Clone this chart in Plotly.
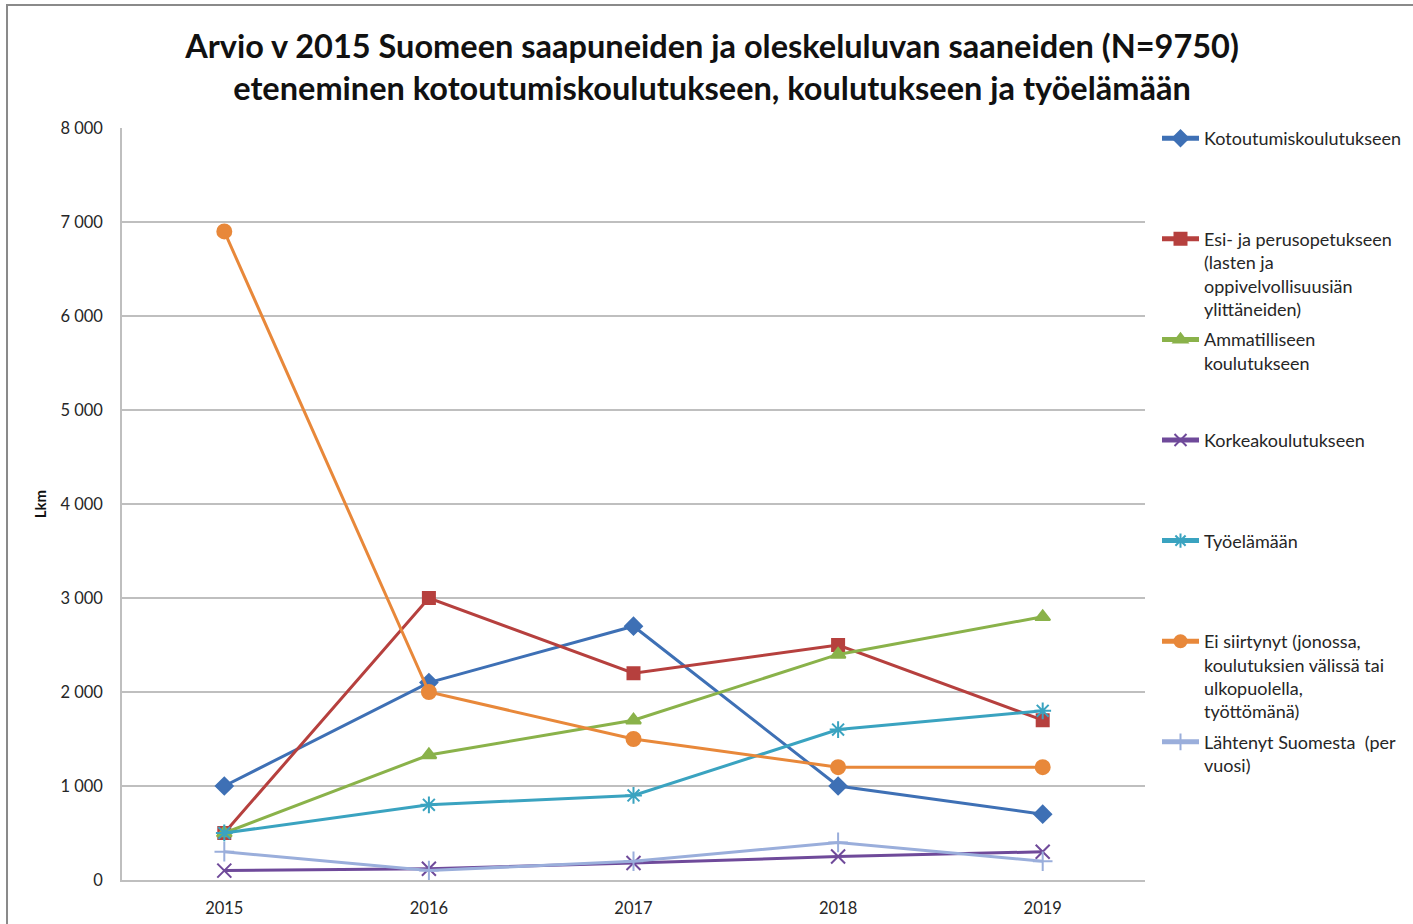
import plotly.graph_objects as go

years = ["2015", "2016", "2017", "2018", "2019"]

kotoutumis = [1000, 2100, 2700, 1000, 700]
esi_perus = [500, 3000, 2200, 2500, 1700]
ammatillinen = [500, 1330, 1700, 2400, 2800]
korkea = [100, 120, 180, 250, 300]
tyoelama = [500, 800, 900, 1600, 1800]
ei_siirtynyt = [6900, 2000, 1500, 1200, 1200]
lahtenyt = [300, 100, 200, 400, 200]

names = [
    "Kotoutumiskoulutukseen",
    "Esi- ja perusopetukseen<br>(lasten ja<br>oppivelvollisuusiän<br>ylittäneiden)",
    "Ammatilliseen<br>koulutukseen",
    "Korkeakoulutukseen",
    "Työelämään",
    "Ei siirtynyt (jonossa,<br>koulutuksien välissä tai<br>ulkopuolella,<br>työttömänä)",
    "Lähtenyt Suomesta  (per<br>vuosi)",
]
series = [kotoutumis, esi_perus, ammatillinen, korkea, tyoelama, ei_siirtynyt, lahtenyt]
colors = ["#3E70B5", "#B6403E", "#8AB24A", "#6F4A9A", "#3AA3C0", "#E8883A", "#9AAEDB"]
symbols = ["diamond", "square", "triangle-up", "x-thin-open", "asterisk-open", "circle", "cross-thin-open"]
msizes = [13, 12, 13, 14, 14, 14, 14]

fig = go.Figure()
for i, (nm, ys) in enumerate(zip(names, series)):
    nlines = nm.count("<br>") + 1
    padded = nm + "<br>\u00a0" * (4 - nlines)
    fig.add_trace(go.Scatter(
        x=years, y=ys, name=padded, mode="lines+markers",
        legendgroup=f"g{i}",
        line=dict(color=colors[i], width=3),
        marker=dict(symbol=symbols[i], size=msizes[i], color=colors[i],
                    line=dict(color=colors[i], width=2)),
    ))

fig.update_layout(
    width=1413, height=924,
    paper_bgcolor="white", plot_bgcolor="white",
    margin=dict(l=122, r=268, t=128, b=44, autoexpand=False),
    font=dict(family="Lato, Open Sans, sans-serif", size=16, color="#262626"),
    title=dict(
        text="Arvio v 2015 Suomeen saapuneiden ja oleskeluluvan saaneiden (N=9750)<br>eteneminen kotoutumiskoulutukseen, koulutukseen ja työelämään",
        x=712 / 1413, xanchor="center", xref="container",
        y=1 - 58 / 924, yanchor="top", yref="container",
        font=dict(family="Lato, sans-serif", size=32.5, color="#111111", weight="bold"),
    ),
    separators=", ",
    legend=dict(
        xref="container", yref="container",
        x=1157 / 1413, xanchor="left",
        y=1 - 120 / 924, yanchor="top",
        valign="top", tracegroupgap=4, itemwidth=37, maxheight=900,
        itemsizing="constant",
        font=dict(family="Lato, sans-serif", size=18, color="#262626"),
        bgcolor="rgba(0,0,0,0)", borderwidth=0,
    ),
    xaxis=dict(
        type="category", range=[-0.5, 4.5],
        showgrid=False, showline=True, linecolor="#BFBFBF", linewidth=1.5,
        ticks="", ticklabelstandoff=12, tickfont=dict(size=16.5, color="#262626"),
        zeroline=False,
    ),
    yaxis=dict(
        range=[0, 8000], dtick=1000, tickformat=",d",
        showgrid=True, gridcolor="#BFBFBF", gridwidth=1.5,
        showline=True, linecolor="#BFBFBF", linewidth=1.5,
        ticks="", ticklabelstandoff=14, tickfont=dict(size=16.5, color="#262626"),
        zeroline=False,
        title=dict(text="<b>Lkm</b>", font=dict(size=15, color="#111111"), standoff=10),
    ),
    shapes=[dict(
        type="rect", xref="paper", yref="paper",
        x0=-0.1124, x1=1.4, y0=-0.2, y1=1.1636,
        line=dict(color="#8A8A8A", width=2), fillcolor="rgba(0,0,0,0)", layer="below",
    )],
)

fig.write_html("out.html", config={"displayModeBar": False},
               post_script="document.body.style.margin='0';")
